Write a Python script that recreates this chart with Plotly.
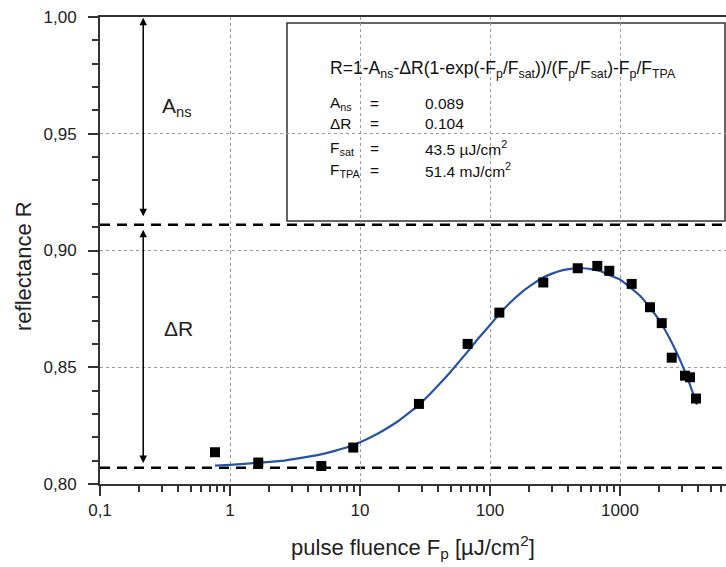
import numpy as np
import plotly.graph_objects as go

# ---- data ----
meas_F = [0.767, 1.65, 5.04, 8.88, 28.4, 67.3, 118, 257, 473, 669, 827, 1230, 1702, 2094, 2500, 3162, 3453, 3843]
meas_R = [0.8136, 0.8092, 0.8077, 0.8156, 0.8343, 0.8600, 0.8734, 0.8863, 0.8924, 0.8934, 0.8913, 0.8857,
          0.8757, 0.8689, 0.8541, 0.8464, 0.8457, 0.8366]

fit_F = [0.767, 1.0, 1.65, 2.5, 3.45, 5.0, 6.5, 8.8, 12, 15, 20, 25, 28.4, 35, 41.2, 50, 60, 67.3, 80, 100,
         117, 140, 179.5, 200, 256, 300, 364, 430, 519, 600, 700, 850, 1000, 1200, 1425, 1700, 2030, 2400,
         2743, 3000, 3273, 3600, 3908]
fit_R = [0.8079, 0.8082, 0.8091, 0.8099, 0.8111, 0.8127, 0.8143, 0.8166, 0.8199, 0.8228, 0.8272, 0.8314,
         0.8339, 0.8389, 0.8430, 0.8482, 0.8534, 0.8567, 0.8619, 0.8681, 0.8726, 0.8772, 0.8826, 0.8845,
         0.8884, 0.8901, 0.8916, 0.8922, 0.8924, 0.8920, 0.8912, 0.8892, 0.8876, 0.8841, 0.8806, 0.8755,
         0.8697, 0.8625, 0.8560, 0.8511, 0.8460, 0.8397, 0.8340]

A_ns = 0.089
dR = 0.104
arrow_F = 0.215

x_tickvals = [0.1, 1, 10, 100, 1000]
x_ticktext = ["0,1", "1", "10", "100", "1000"]
x_minor_vals = [m * d for d in (0.1, 1, 10, 100, 1000) for m in range(2, 10)]
y_tickvals = [0.80, 0.85, 0.90, 0.95, 1.00]
y_ticktext = ["0,80", "0,85", "0,90", "0,95", "1,00"]
y_minor_vals = [round(0.80 + 0.01 * i, 2) for i in range(21) if i % 5]

FONT = "Liberation Sans, Arial, sans-serif"

# plot area in pixels (for paper-coordinate placement of the text box)
L, R_, T, B = 100, 726, 17, 484
X_RANGE = [-1, -1 + (R_ - L) / 130]
Y_RANGE = [0.80, 1.00]
def px(xp):
    return (xp - L) / (R_ - L)
def py(yp):
    return (B - yp) / (B - T)

fig = go.Figure()
# invisible carrier trace so the overlay axes (minor ticks) are drawn
fig.add_trace(go.Scatter(x=meas_F, y=meas_R, xaxis="x2", yaxis="y2", mode="markers",
                         marker=dict(opacity=0, size=1), hoverinfo="skip", showlegend=False))
fig.add_trace(go.Scatter(x=fit_F, y=fit_R, mode="lines", line=dict(color="#2753a5", width=2.2, shape="spline",
                                                                   smoothing=0.6),
                         hoverinfo="skip", showlegend=False))
fig.add_trace(go.Scatter(x=meas_F, y=meas_R, mode="markers",
                         marker=dict(symbol="square", size=10, color="black"), showlegend=False))

lvl_top = 1 - A_ns
lvl_bot = 1 - A_ns - dR
for lv in (lvl_top, lvl_bot):
    fig.add_shape(type="line", xref="paper", x0=0, x1=1, yref="y", y0=lv, y1=lv,
                  line=dict(color="black", width=2.5, dash="10px,7px"), layer="between")

# text box
fig.add_shape(type="rect", xref="paper", yref="paper", x0=px(287), x1=px(725), y0=py(221), y1=py(23),
              line=dict(color="#333333", width=1.5), fillcolor="white", layer="between")

ax_log = np.log10(arrow_F)
ann = []
ann.append(dict(x=ax_log, y=0.9997, ax=ax_log, ay=lvl_top + 0.003, xref="x", yref="y", axref="x", ayref="y",
                text="", showarrow=True, arrowhead=2, arrowside="end+start", arrowsize=1, arrowwidth=1.5,
                arrowcolor="black"))
ann.append(dict(x=ax_log, y=lvl_top - 0.0021, ax=ax_log, ay=lvl_bot + 0.0014, xref="x", yref="y", axref="x",
                ayref="y", text="", showarrow=True, arrowhead=2, arrowside="end+start", arrowsize=1,
                arrowwidth=1.5, arrowcolor="black"))
ann.append(dict(x=-1 + (160 - 100) / 130, y=0.9616, xref="x", yref="y", text="A<sub>ns</sub>", showarrow=False,
                xanchor="left", yanchor="middle", font=dict(size=21, color="#222", family=FONT)))
ann.append(dict(x=-1 + (162 - 100) / 130, y=0.8664, xref="x", yref="y", text="ΔR", showarrow=False,
                xanchor="left", yanchor="middle", font=dict(size=21, color="#222", family=FONT)))

# y-axis title (placed as rotated text to match the reference's vertical position)
ann.append(dict(x=px(23), y=py(266), xref="paper", yref="paper", showarrow=False, textangle=-90,
                xanchor="center", yanchor="middle", text="reflectance R",
                font=dict(size=22, color="#222", family=FONT)))

ann.append(dict(x=px(328), y=py(70), xref="paper", yref="paper", showarrow=False, xanchor="left", yanchor="middle",
                text="R=1-A<sub>ns</sub>-ΔR(1-exp(-F<sub>p</sub>/F<sub>sat</sub>))/(F<sub>p</sub>/F<sub>sat</sub>)-F<sub>p</sub>/F<sub>TPA</sub>",
                font=dict(size=17.6, color="#111", family=FONT)))

params = [("A<sub>ns</sub>", "0.089", 104), ("ΔR", "0.104", 124),
          ("F<sub>sat</sub>", "43.5 µJ/cm<sup>2</sup>", 148), ("F<sub>TPA</sub>", "51.4 mJ/cm<sup>2</sup>", 170)]
for lab, val, yp in params:
    ann.append(dict(x=px(328), y=py(yp), xref="paper", yref="paper", showarrow=False, xanchor="left",
                    yanchor="middle", text=lab, font=dict(size=15.5, color="#111", family=FONT)))
    ann.append(dict(x=px(368), y=py(yp), xref="paper", yref="paper", showarrow=False, xanchor="left",
                    yanchor="middle", text="=", font=dict(size=15.5, color="#111", family=FONT)))
    ann.append(dict(x=px(423), y=py(yp), xref="paper", yref="paper", showarrow=False, xanchor="left",
                    yanchor="middle", text=val, font=dict(size=15.5, color="#111", family=FONT)))

fig.update_layout(
    width=726, height=567, autosize=False,
    margin=dict(l=L, r=726 - R_, t=T, b=567 - B),
    paper_bgcolor="white", plot_bgcolor="white",
    font=dict(family=FONT, color="#222"),
    annotations=ann,
    xaxis=dict(type="log", range=X_RANGE, tickmode="array", tickvals=x_tickvals,
               ticktext=x_ticktext, ticks="outside", ticklen=10, tickwidth=2, tickcolor="#333",
               showline=True, linewidth=2, linecolor="#333", mirror=True, automargin=False,
               showgrid=True, gridcolor="#9a9a9a", griddash="dot", gridwidth=1, zeroline=False,
               tickfont=dict(size=17, color="#222"),
               title=dict(text="pulse fluence F<sub>p</sub> [µJ/cm<sup>2</sup>]", font=dict(size=22, color="#222"),
                          standoff=20)),
    yaxis=dict(range=Y_RANGE, tickmode="array", tickvals=y_tickvals, ticktext=y_ticktext,
               ticks="outside", ticklen=10, tickwidth=2, tickcolor="#333", ticklabelstandoff=8,
               showline=True, linewidth=2, linecolor="#333", automargin=False,
               showgrid=True, gridcolor="#9a9a9a", griddash="dot", gridwidth=1, zeroline=False,
               tickfont=dict(size=17, color="#222")),
    xaxis2=dict(type="log", range=X_RANGE, overlaying="x", anchor="y", side="bottom", tickmode="array",
                tickvals=x_minor_vals, ticks="outside", ticklen=6, tickwidth=1.5, tickcolor="#333",
                showticklabels=False, showgrid=False, showline=True, linewidth=2, linecolor="#333",
                zeroline=False, automargin=False),
    yaxis2=dict(range=Y_RANGE, overlaying="y", anchor="x", side="left", tickmode="array",
                tickvals=y_minor_vals, ticks="outside", ticklen=6, tickwidth=1.5, tickcolor="#333",
                showticklabels=False, showgrid=False, showline=True, linewidth=2, linecolor="#333",
                zeroline=False, automargin=False),
)

fig.write_html("out.html", config={"displayModeBar": False},
               post_script="document.body.style.margin='0';document.body.style.overflow='hidden';")
